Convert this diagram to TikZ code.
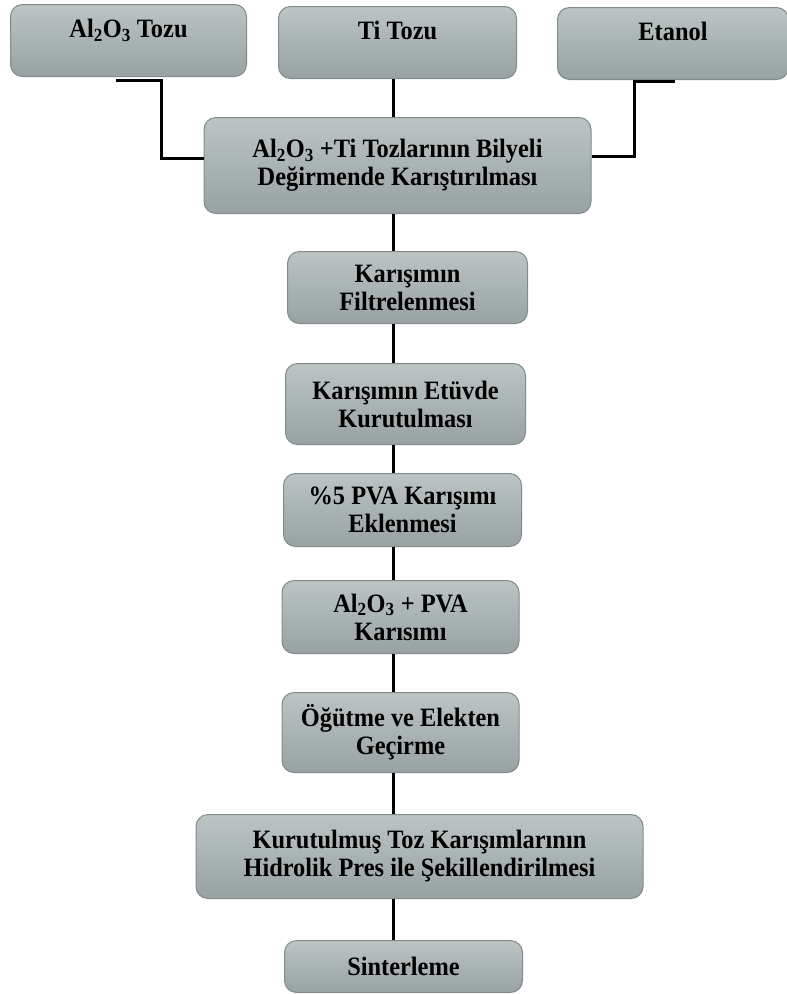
\documentclass[tikz,border=0pt]{standalone}
\usepackage{fontspec}
\setmainfont[FakeStretch=0.92]{Liberation Serif}
\usepackage{xcolor}
\usepackage{tikz}
\usetikzlibrary{positioning}
\definecolor{boxtop}{RGB}{188,196,196}
\definecolor{boxbot}{RGB}{152,162,162}
\definecolor{boxline}{RGB}{128,140,140}
\begin{document}
\begin{tikzpicture}[x=1pt, y=-1pt,
  procbox/.style={rounded corners=12pt, draw=boxline, line width=1pt, top color=boxtop, bottom color=boxbot, align=center, inner sep=0pt, text=black, font=\bfseries\fontsize{26.5}{28}\selectfont},
  srcbox/.style={procbox, inner ysep=0pt, text height=33pt, text depth=39pt},
  link/.style={line width=3pt, black}]
\useasboundingbox (0,0) rectangle (787,994);
\node[srcbox, minimum width=236pt, anchor=north west] (al) at (10,4) {Al\textsubscript{2}O\textsubscript{3} Tozu};
\node[srcbox, minimum width=238pt, right=31pt of al, yshift=-2pt] (ti) {Ti Tozu};
\node[srcbox, minimum width=231pt, right=40pt of ti, yshift=-1pt] (et) {Etanol};
\node[procbox, minimum width=387pt, minimum height=96pt, below=38pt of ti] (mix) {Al\textsubscript{2}O\textsubscript{3} +Ti Tozlarının Bilyeli\\Değirmende Karıştırılması};
\node[procbox, minimum width=240pt, minimum height=72pt, below=37pt of mix, xshift=10pt] (filt) {Karışımın\\Filtrelenmesi};
\node[procbox, minimum width=240pt, minimum height=81pt, below=39pt of filt, xshift=-2pt] (dry) {Karışımın Etüvde\\Kurutulması};
\node[procbox, minimum width=238pt, minimum height=73pt, below=28pt of dry, xshift=-3pt] (pva) {\%5 PVA Karışımı\\Eklenmesi};
\node[procbox, minimum width=237pt, minimum height=73pt, below=33pt of pva, xshift=-2pt] (blend) {Al\textsubscript{2}O\textsubscript{3} + PVA\\Karısımı};
\node[procbox, minimum width=237pt, minimum height=80pt, below=38pt of blend] (grind) {Öğütme ve Elekten\\Geçirme};
\node[procbox, minimum width=447pt, minimum height=84pt, below=41pt of grind, xshift=19pt] (press) {Kurutulmuş Toz Karışımlarının\\Hidrolik Pres ile Şekillendirilmesi};
\node[procbox, minimum width=238pt, minimum height=52pt, below=41pt of press, xshift=-16pt] (sinter) {Sinterleme};
% connectors
\coordinate (spine) at (393,0);
\coordinate (alstub) at (116,80);
\coordinate (albend) at (161,80);
\coordinate (etstub) at (675,81);
\coordinate (etbend) at (634,81);
\draw[link] (alstub) -- (albend) |- ([yshift=7pt]mix.west);
\draw[link] (etstub) -- (etbend) |- ([yshift=9pt]mix.east);
\draw[link] (ti.south -| spine) -- (mix.north -| spine);
\draw[link] (mix.south -| spine) -- (filt.north -| spine);
\draw[link] (filt.south -| spine) -- (dry.north -| spine);
\draw[link] (dry.south -| spine) -- (pva.north -| spine);
\draw[link] (pva.south -| spine) -- (blend.north -| spine);
\draw[link] (blend.south -| spine) -- (grind.north -| spine);
\draw[link] (grind.south -| spine) -- (press.north -| spine);
\draw[link] (press.south -| spine) -- (sinter.north -| spine);
\end{tikzpicture}
\end{document}
